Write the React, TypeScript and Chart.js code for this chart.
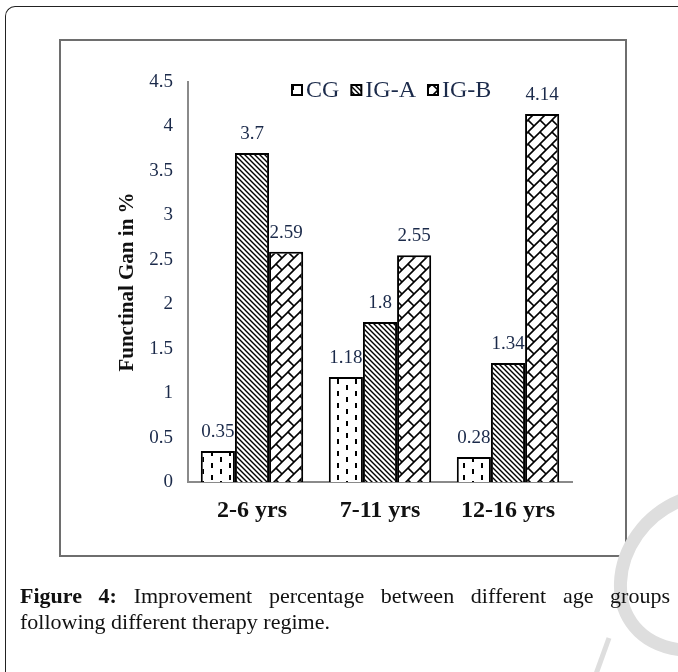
import React, { useEffect, useRef } from 'react';
import { Chart, registerables } from 'chart.js';

Chart.register(...registerables);

const categories = ['2-6 yrs', '7-11 yrs', '12-16 yrs'];
const seriesNames = ['CG', 'IG-A', 'IG-B'];
const cgValues = [0.35, 1.18, 0.28];
const igaValues = [3.7, 1.8, 1.34];
const igbValues = [2.59, 2.55, 4.14];
const yMin = 0;
const yMax = 4.5;
const yStep = 0.5;
const yTitle = 'Functinal Gan in %';

const SERIF = "'Liberation Serif', 'Times New Roman', serif";
const TEXT_COLOR = '#1b2a4a';

function makeTile(w: number, h: number, draw: (c: CanvasRenderingContext2D) => void): CanvasPattern {
  const t = document.createElement('canvas');
  t.width = w;
  t.height = h;
  const c = t.getContext('2d')!;
  c.fillStyle = '#ffffff';
  c.fillRect(0, 0, w, h);
  c.strokeStyle = '#000000';
  c.fillStyle = '#000000';
  draw(c);
  return c.createPattern(t, 'repeat')!;
}

function dashPattern() {
  return makeTile(18, 12, (c) => {
    c.fillStyle = '#000';
    c.fillRect(4, 1, 2, 5);
    c.fillRect(13, 7, 2, 5);
  });
}

function diagPattern() {
  return makeTile(5, 5, (c) => {
    c.lineWidth = 1.4;
    c.beginPath();
    c.moveTo(-1, -1); c.lineTo(6, 6);
    c.moveTo(-1, 4); c.lineTo(1, 6);
    c.moveTo(4, -1); c.lineTo(6, 1);
    c.stroke();
  });
}

function shinglePattern() {
  return makeTile(12, 12, (c) => {
    c.lineWidth = 1.6;
    c.beginPath();
    c.moveTo(-1, 13); c.lineTo(13, -1);
    c.moveTo(-1, 1); c.lineTo(1, -1);
    c.moveTo(11, 13); c.lineTo(13, 11);
    c.moveTo(0, 0); c.lineTo(6, 6);
    c.stroke();
  });
}

const valueLabels = {
  id: 'valueLabels',
  afterDatasetsDraw(chart: any) {
    const ctx = chart.ctx;
    ctx.save();
    ctx.font = `19px ${SERIF}`;
    ctx.fillStyle = TEXT_COLOR;
    ctx.textAlign = 'center';
    ctx.textBaseline = 'alphabetic';
    chart.data.datasets.forEach((ds: any, i: number) => {
      const meta = chart.getDatasetMeta(i);
      meta.data.forEach((el: any, j: number) => {
        ctx.fillText(String(ds.data[j]), el.x, el.y - 14);
      });
    });
    ctx.restore();
  },
};

const inlineLegend = {
  id: 'inlineLegend',
  afterDraw(chart: any) {
    const ctx = chart.ctx;
    const area = chart.chartArea;
    ctx.save();
    ctx.font = `24px ${SERIF}`;
    ctx.textBaseline = 'middle';
    ctx.textAlign = 'left';
    let x = area.left + 104;
    const cy = area.top + 8;
    const box = 10;
    chart.data.datasets.forEach((ds: any) => {
      ctx.fillStyle = ds.backgroundColor;
      ctx.fillRect(x, cy - box / 2, box, box);
      ctx.lineWidth = 2;
      ctx.strokeStyle = '#000';
      ctx.strokeRect(x, cy - box / 2, box, box);
      x += box + 4;
      ctx.fillStyle = TEXT_COLOR;
      ctx.fillText(ds.label, x, cy + 1);
      x += ctx.measureText(ds.label).width + 12;
    });
    ctx.restore();
  },
};

export default function App() {
  const ref = useRef<HTMLCanvasElement | null>(null);

  useEffect(() => {
    if (!ref.current) return;
    const patterns = [dashPattern(), diagPattern(), shinglePattern()];
    const values = [cgValues, igaValues, igbValues];
    const chart = new Chart(ref.current, {
      type: 'bar',
      data: {
        labels: categories,
        datasets: seriesNames.map((name, i) => ({
          label: name,
          data: values[i],
          backgroundColor: patterns[i] as any,
          borderColor: '#000000',
          borderWidth: 2,
          categoryPercentage: 0.8,
          barPercentage: 1.0,
        })),
      },
      options: {
        responsive: false,
        animation: false,
        devicePixelRatio: 1,
        layout: { padding: { left: 111, top: 82, right: 106, bottom: 140 } },
        plugins: {
          legend: { display: false },
          tooltip: { enabled: false },
        },
        scales: {
          x: {
            grid: { display: false, drawTicks: false },
            border: { display: true, color: '#8a8a8a', width: 2 },
            ticks: {
              font: { family: SERIF, size: 24, weight: 'bold' },
              color: '#111111',
              padding: 14,
            },
            afterFit: (s: any) => { s.height = 50; },
          },
          y: {
            min: yMin,
            max: yMax,
            grid: { display: false, drawTicks: false },
            border: { display: true, color: '#8a8a8a', width: 2 },
            ticks: {
              stepSize: yStep,
              font: { family: SERIF, size: 19 },
              color: TEXT_COLOR,
              padding: 15,
              callback: (v: any) => String(Math.round(Number(v) * 10) / 10),
            },
            title: {
              display: true,
              text: yTitle,
              font: { family: SERIF, size: 21, weight: 'bold' },
              color: '#111111',
              padding: { top: 4, bottom: 4 },
            },
            afterFit: (s: any) => { s.width = 77; },
          },
        },
      },
      plugins: [valueLabels, inlineLegend],
    });
    return () => chart.destroy();
  }, []);

  return (
    <div style={{ position: 'fixed', left: 0, top: 0, width: 678, height: 672, background: '#fff', overflow: 'hidden' }}>
      <div style={{
        position: 'absolute', left: 5, top: 6, width: 720, height: 720,
        borderLeft: '1.5px solid #222', borderTop: '1.5px solid #222',
        borderTopLeftRadius: 10, boxSizing: 'border-box',
      }} />
      <div style={{
        position: 'absolute', left: 59, top: 39, width: 568, height: 518,
        border: '2px solid #6e6e6e', boxSizing: 'border-box',
      }} />
      <svg width={678} height={672} style={{ position: 'absolute', left: 0, top: 0, pointerEvents: 'none' }}>
        <path d="M 682 500 C 605 530, 595 640, 682 650" stroke="#dedede" strokeWidth={13} fill="none" />
        <path d="M 596 674 L 609 638" stroke="#dedede" strokeWidth={5} fill="none" />
      </svg>
      <canvas ref={ref} width={678} height={672} style={{ position: 'absolute', left: 0, top: 0 }} />
      <div style={{
        position: 'absolute', left: 20, top: 583, width: 650, fontFamily: SERIF, fontSize: 22,
        lineHeight: '26px', color: '#111', textAlign: 'justify', textAlignLast: 'justify' as any,
      }}>
        <b>Figure 4:</b> Improvement percentage between different age groups
      </div>
      <div style={{
        position: 'absolute', left: 20, top: 609, width: 650, fontFamily: SERIF, fontSize: 22,
        lineHeight: '26px', color: '#111',
      }}>
        following different therapy regime.
      </div>
    </div>
  );
}
